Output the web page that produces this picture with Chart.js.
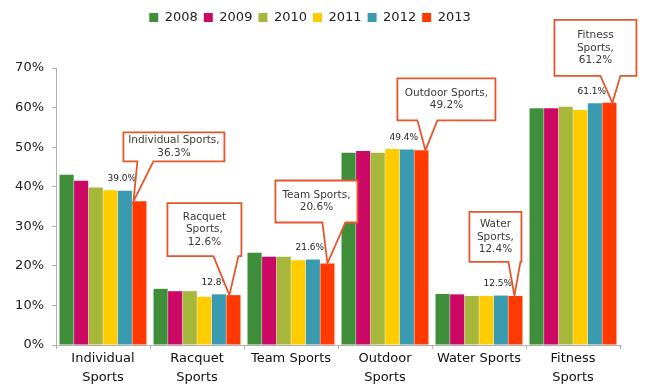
<!DOCTYPE html>
<html>
<head>
<meta charset="utf-8">
<script src="https://cdn.jsdelivr.net/npm/chart.js@4"></script>
<style>
  html, body { margin: 0; padding: 0; background: #fff; }
  #wrap { width: 645px; height: 388px; }
</style>
</head>
<body>
<div id="wrap"><canvas id="sports" width="645" height="388"></canvas></div>
<script>
// categories and yearly shares (%)
const categories = [["Individual", "Sports"], ["Racquet", "Sports"], "Team Sports", ["Outdoor", "Sports"], "Water Sports", ["Fitness", "Sports"]];
const years = ["2008", "2009", "2010", "2011", "2012", "2013"];
const v2008 = [43.0, 14.2, 23.3, 48.6, 12.9, 59.8];
const v2009 = [41.5, 13.6, 22.3, 49.0, 12.8, 59.8];
const v2010 = [39.8, 13.6, 22.3, 48.6, 12.4, 60.2];
const v2011 = [39.1, 12.2, 21.4, 49.5, 12.4, 59.4];
const v2012 = [39.0, 12.8, 21.6, 49.4, 12.5, 61.1];
const v2013 = [36.3, 12.6, 20.6, 49.2, 12.4, 61.2];
const yTicks = [0, 10, 20, 30, 40, 50, 60, 70];
const calloutNames = [["Individual Sports,"], ["Racquet", "Sports,"], ["Team Sports,"], ["Outdoor Sports,"], ["Water", "Sports,"], ["Fitness", "Sports,"]];

const colors = ["#3f8f3a", "#cc0a66", "#a6b73a", "#ffcc00", "#3a9bb0", "#ff3a00"];
const series = [v2008, v2009, v2010, v2011, v2012, v2013];

// callout boxes: dx = tip shift from bar centre, rest relative to the tip
const calloutBox = [
    { dx: -6, l: -10, t: -69, w: 101, h: 29, b1: 4, b2: 20 },
    { dx: -4, l: -62, t: -92, w: 74, h: 53, b1: -16, b2: 9 },
    { dx: 0, l: -52, t: -83, w: 82, h: 42, b1: -5, b2: 18 },
    { dx: 4, l: -28, t: -72, w: 98, h: 42, b1: -8, b2: 12 },
    { dx: -1, l: -45, t: -84, w: 52, h: 50, b1: -6, b2: 6 },
    { dx: 3, l: -58, t: -83, w: 82, h: 56, b1: -12, b2: 8 },
];

const callouts = {
    id: "callouts",
    afterDatasetsDraw(chart) {
        const ctx = chart.ctx;
        // value labels over the 2012 bars
        const m12 = chart.getDatasetMeta(4);
        ctx.save();
        ctx.font = "9px 'DejaVu Sans'";
        ctx.fillStyle = "#222";
        ctx.textAlign = "center";
        ctx.textBaseline = "middle";
        m12.data.forEach((bar, i) => {
            ctx.fillText(v2012[i].toFixed(1) + "%", bar.x - 3, bar.y - 12);
        });

        const m13 = chart.getDatasetMeta(5);
        m13.data.forEach((bar, i) => {
            const c = calloutBox[i];
            const tx = bar.x + c.dx;
            const ty = bar.y;
            const x = tx + c.l, y = ty + c.t;
            const by = y + c.h;
            ctx.beginPath();
            ctx.moveTo(x, y);
            ctx.lineTo(x + c.w, y);
            ctx.lineTo(x + c.w, by);
            ctx.lineTo(tx + c.b2, by);
            ctx.lineTo(tx, ty);
            ctx.lineTo(tx + c.b1, by);
            ctx.lineTo(x, by);
            ctx.closePath();
            ctx.fillStyle = "#fff";
            ctx.fill();
            ctx.strokeStyle = "#e4572e";
            ctx.lineWidth = 1.8;
            ctx.stroke();

            const lines = calloutNames[i].concat([v2013[i].toFixed(1) + "%"]);
            const lh = 12.5;
            const cy = y + c.h / 2 - (lines.length - 1) * lh / 2;
            ctx.fillStyle = "#3a3a3a";
            ctx.font = "10.5px 'DejaVu Sans'";
            lines.forEach((s, k) => ctx.fillText(s, x + c.w / 2, cy + k * lh));
        });
        ctx.restore();
    },
};

new Chart(document.getElementById("sports"), {
    type: "bar",
    data: {
        labels: categories,
        datasets: years.map((y, i) => ({
            label: y,
            data: series[i],
            backgroundColor: colors[i],
            barPercentage: 0.97,
            categoryPercentage: 0.93,
        })),
    },
    options: {
        responsive: false,
        animation: false,
        devicePixelRatio: 1,
        layout: { padding: { top: 5, right: 25, left: 0, bottom: 0 } },
        plugins: {
            legend: {
                labels: {
                    boxWidth: 9,
                    boxHeight: 9,
                    padding: 6,
                    color: "#222",
                    font: { family: "'DejaVu Sans'", size: 13 },
                },
            },
            // empty title used as a spacer between legend and plot
            title: {
                display: true,
                text: " ",
                weight: 500,
                font: { size: 10, lineHeight: 1.2 },
                padding: { top: 11, bottom: 11 },
            },
            tooltip: { enabled: false },
        },
        scales: {
            x: {
                afterFit: (s) => { s.height = 43; },
                grid: { drawOnChartArea: false, tickLength: 4, color: "#b0b0b0" },
                border: { color: "#b0b0b0" },
                ticks: {
                    color: "#111",
                    padding: 0,
                    font: { family: "'DejaVu Sans'", size: 13, lineHeight: 1.45 },
                    maxRotation: 0,
                },
            },
            y: {
                min: 0,
                max: 70,
                afterFit: (s) => { s.width = 56; },
                afterBuildTicks: (s) => { s.ticks = yTicks.map((v) => ({ value: v })); },
                grid: { drawOnChartArea: false, tickLength: 4, color: "#b0b0b0" },
                border: { color: "#b0b0b0" },
                ticks: {
                    color: "#222",
                    padding: 8,
                    font: { family: "'DejaVu Sans'", size: 13 },
                    callback: (v) => v + "%",
                },
            },
        },
    },
    plugins: [callouts],
});
</script>
</body>
</html>
